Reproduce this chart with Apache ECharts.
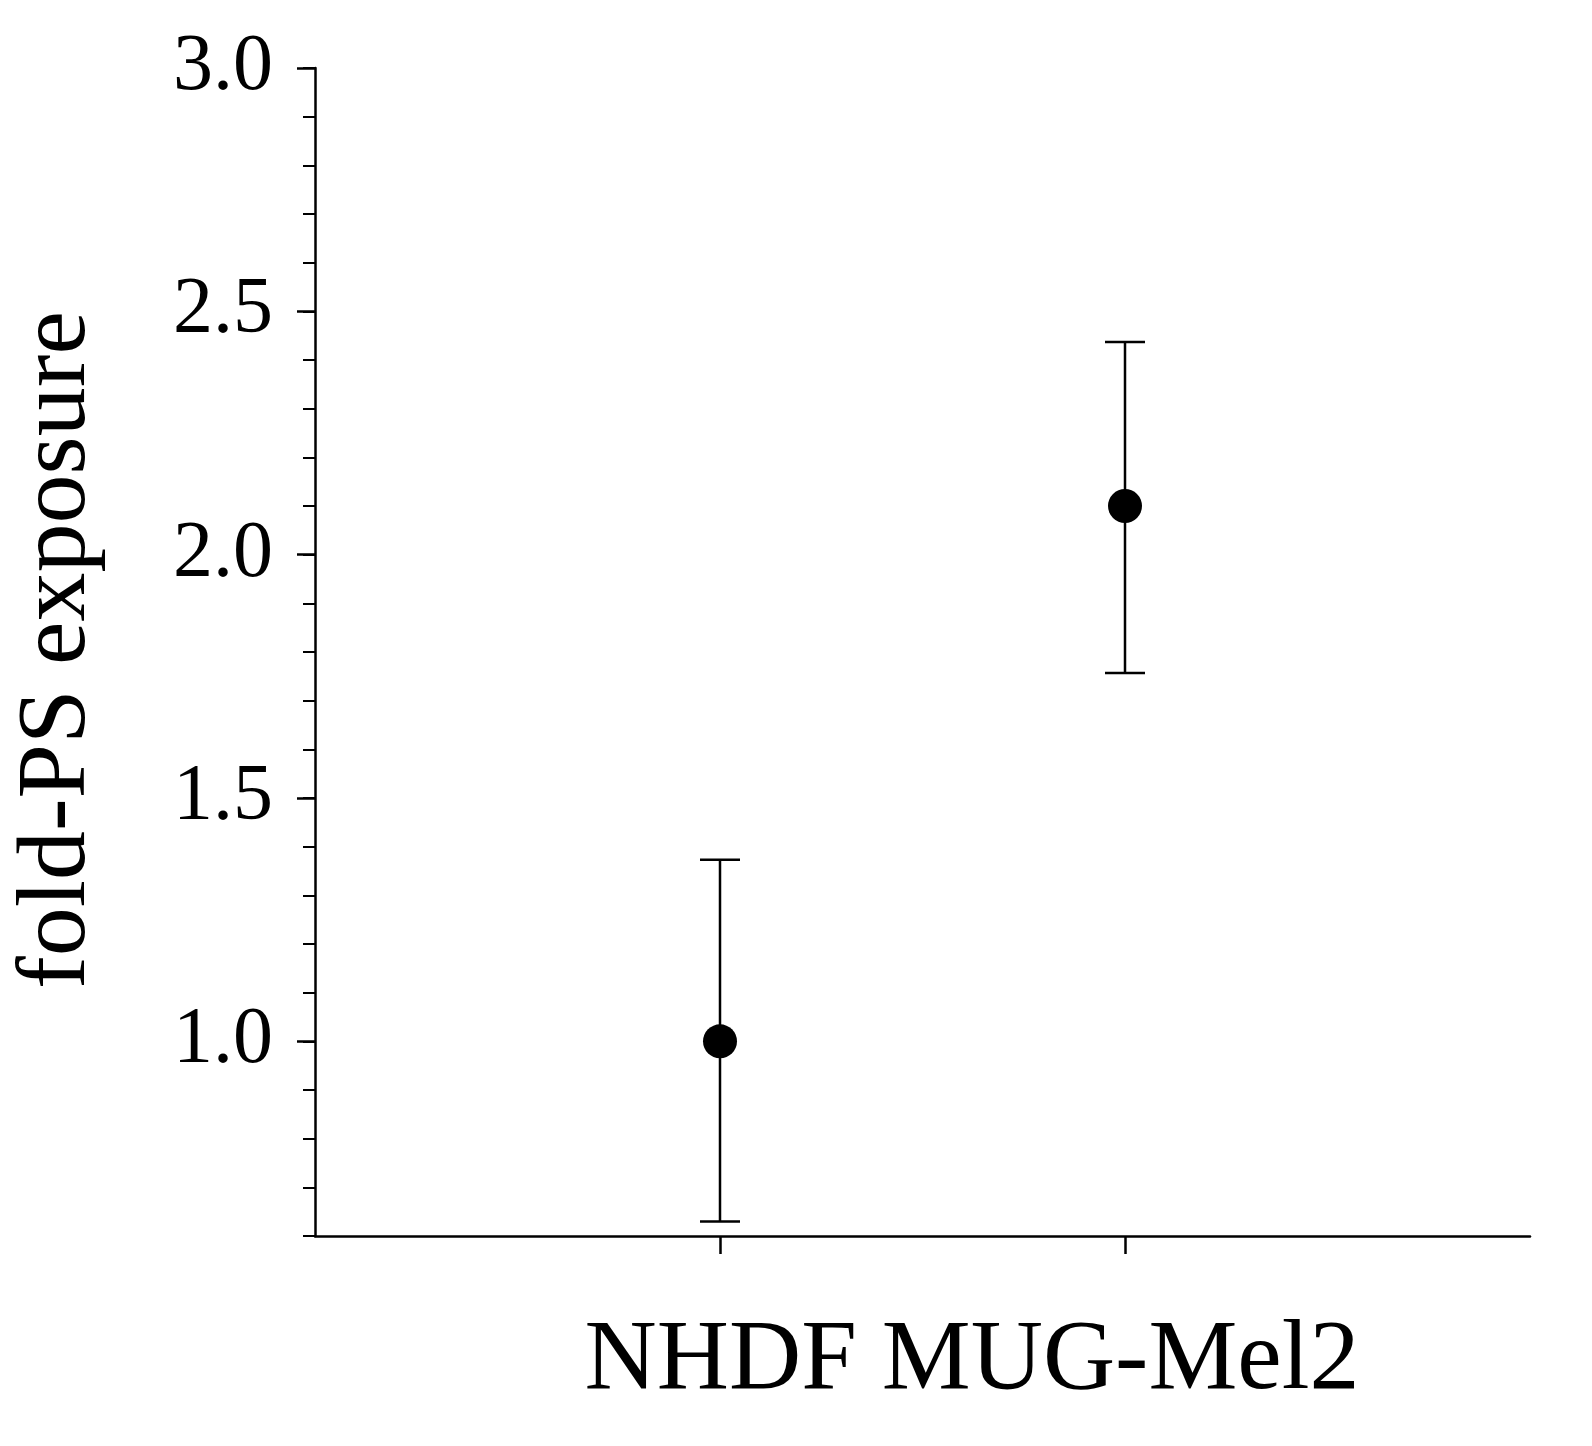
<!DOCTYPE html>
<html><head><meta charset="utf-8">
<script src="https://cdn.jsdelivr.net/npm/echarts@6/dist/echarts.min.js"></script>
<style>html,body{margin:0;background:#fff}#c{width:1592px;height:1446px}</style>
</head><body><div id="c"></div>
<script>
const categories = ['NHDF', 'MUG-Mel2'];
const means = [1.0, 2.1];
const lows = [0.63, 1.757];
const highs = [1.373, 2.437];
const yTickLabels = [1.0, 1.5, 2.0, 2.5, 3.0];

const font = '"Liberation Serif","Times New Roman",serif';
const chart = echarts.init(document.getElementById('c'));
const pts = means.map((m, i) => [i + 1, m]);
const errs = means.map((m, i) => [i + 1, lows[i], highs[i]]);
chart.setOption({
  animation: false,
  grid: {left: 315, right: 62, top: 68, bottom: 210},
  xAxis: {type: 'value', min: 0, max: 3,
    axisLine: {show: true, lineStyle: {color: '#000', width: 2.5}},
    axisTick: {show: true, customValues: [1, 2], length: 18, lineStyle: {color: '#000', width: 2.5}},
    axisLabel: {show: false}, splitLine: {show: false}},
  yAxis: [
    {type: 'value', min: 0.6, max: 3.0, interval: 0.1,
      axisLine: {show: true, lineStyle: {color: '#000', width: 2.5}},
      axisTick: {show: true, length: 12, lineStyle: {color: '#000', width: 2}},
      axisLabel: {show: false}, splitLine: {show: false}},
    {type: 'value', min: 0.6, max: 3.0, position: 'left',
      axisLine: {show: false},
      axisTick: {show: true, customValues: yTickLabels, length: 18, lineStyle: {color: '#000', width: 2.5}},
      axisLabel: {show: true, customValues: yTickLabels, margin: 42, color: '#000',
        fontFamily: font, fontSize: 80, formatter: v => v.toFixed(1)},
      splitLine: {show: false}}
  ],
  graphic: [
    {type: 'text', x: 972, y: 1362, style: {text: categories.join(' '), font: '100px ' + font, fill: '#000', align: 'center', verticalAlign: 'middle'}},
    {type: 'text', x: 58, y: 650, rotation: Math.PI / 2,
      style: {text: 'fold-PS exposure', font: '98px ' + font, fill: '#000', align: 'center', verticalAlign: 'middle'}}
  ],
  series: [
    {type: 'custom', data: errs, renderItem: (p, api) => {
      const x = api.value(0), lo = api.coord([x, api.value(1)]), hi = api.coord([x, api.value(2)]);
      const w = 20, st = {stroke: '#000', lineWidth: 2.5};
      return {type: 'group', children: [
        {type: 'line', shape: {x1: lo[0], y1: lo[1], x2: hi[0], y2: hi[1]}, style: st},
        {type: 'line', shape: {x1: lo[0] - w, y1: lo[1], x2: lo[0] + w, y2: lo[1]}, style: st},
        {type: 'line', shape: {x1: hi[0] - w, y1: hi[1], x2: hi[0] + w, y2: hi[1]}, style: st}
      ]};
    }},
    {type: 'scatter', data: pts, symbolSize: 34, itemStyle: {color: '#000', opacity: 1}, z: 5}
  ]
});
</script></body></html>
